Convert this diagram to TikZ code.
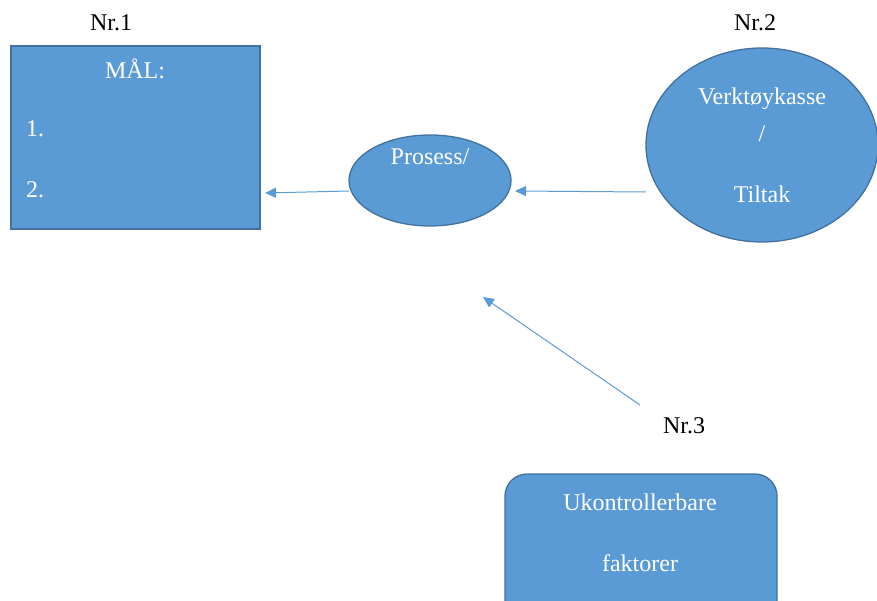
\documentclass[tikz,border=0pt]{standalone}
\usepackage{fontspec}
\setmainfont{Liberation Serif}
\usetikzlibrary{shapes.geometric,arrows.meta}
\definecolor{boxfill}{HTML}{5B9BD5}
\definecolor{boxline}{HTML}{41719C}
\definecolor{arrcol}{HTML}{5B9BD5}
\tikzset{
  shapebox/.style={fill=boxfill,draw=boxline,line width=1.3pt,inner sep=0pt},
  wtext/.style={text=white,font=\fontsize{24}{28}\selectfont,inner sep=0pt},
  btext/.style={text=black,font=\fontsize{24}{28}\selectfont,inner sep=0pt},
  arr/.style={draw=arrcol,line width=1pt,-{Triangle[length=11pt,width=10pt]}}
}
\begin{document}
\begin{tikzpicture}[x=1pt,y=-1pt]
\useasboundingbox (0,0) rectangle (877,601);
\clip (0,0) rectangle (877,601);
% shapes
\node[shapebox,rectangle,minimum width=249pt,minimum height=183pt] (mal) at (135.5,137.5) {};
\node[shapebox,ellipse,minimum width=162pt,minimum height=91pt] (pros) at (430,180.5) {};
\node[shapebox,ellipse,minimum width=232pt,minimum height=194pt] (verk) at (762,145) {};
\node[shapebox,rectangle,rounded corners=22pt,minimum width=272pt,minimum height=150pt] (ukon) at (641,549) {};
% labels
\node[btext] (nr1) at (111,23) {Nr.1};
\node[btext] (nr2) at (755,23) {Nr.2};
\node[btext] (nr3) at (684,426) {Nr.3};
\node[wtext] (maltxt) at (135,69) {MÅL:};
\node[wtext,anchor=west] (m1) at (26,129) {1.};
\node[wtext,anchor=west] (m2) at (26,190) {2.};
\node[wtext] (prostxt) at (430,157) {Prosess/};
\node[wtext] (v1) at (762,99) {Verktøykasse};
\node[wtext] (v2) at (762,134) {/};
\node[wtext] (v3) at (762,194) {Tiltak};
\node[wtext] (u1) at (640,502) {Ukontrollerbare};
\node[wtext] (u2) at (640,563) {faktorer};
% connector end points
\coordinate (a1s) at (349,191);
\coordinate (a1e) at (265,193);
\coordinate (a2s) at (646,192);
\coordinate (a2e) at (515,191);
\coordinate (a3s) at (640,405);
\coordinate (a3e) at (483,297);
\draw[arr] (a1s) -- (a1e);
\draw[arr] (a2s) -- (a2e);
\draw[arr] (a3s) -- (a3e);
\end{tikzpicture}
\end{document}
